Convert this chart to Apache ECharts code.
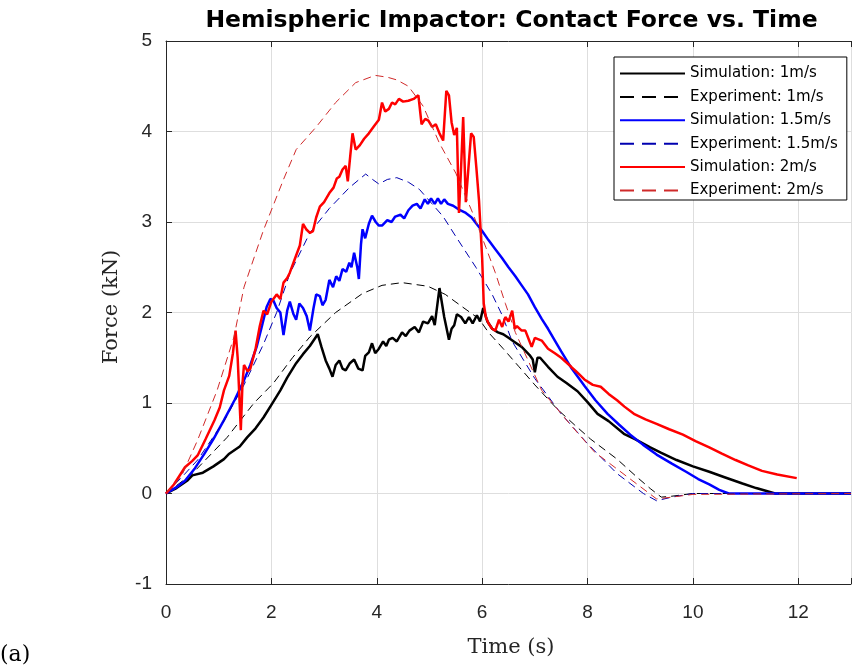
<!DOCTYPE html>
<html>
<head>
<meta charset="utf-8">
<script src="https://cdn.jsdelivr.net/npm/echarts@6/dist/echarts.min.js"></script>
<style>
  html, body { margin: 0; padding: 0; background: #ffffff; }
  #chart { width: 854px; height: 669px; }
</style>
</head>
<body>
<div id="chart"></div>
<script>
// Contact force (kN) against time (s) for a hemispheric impactor at three speeds.
var seriesNames = [
  'Simulation: 1m/s', 'Experiment: 1m/s',
  'Simulation: 1.5m/s', 'Experiment: 1.5m/s',
  'Simulation: 2m/s', 'Experiment: 2m/s'
];

var xTicks = [0, 2, 4, 6, 8, 10, 12];
var yTicks = [-1, 0, 1, 2, 3, 4, 5];

// [time, force] pairs
var sim1 = [
  [0,0],[0.2,0.06],[0.4,0.14],[0.5,0.2],[0.7,0.23],[0.9,0.3],[1.1,0.38],[1.2,0.44],[1.4,0.52],
  [1.54,0.62],[1.7,0.72],[1.85,0.84],[2.0,0.98],[2.17,1.14],[2.3,1.28],[2.47,1.44],[2.6,1.54],
  [2.73,1.63],[2.88,1.76],[2.95,1.62],[3.03,1.47],[3.1,1.38],[3.16,1.29],[3.22,1.42],[3.29,1.47],
  [3.35,1.38],[3.41,1.36],[3.49,1.44],[3.57,1.48],[3.65,1.38],[3.73,1.36],[3.78,1.52],[3.85,1.56],
  [3.91,1.66],[3.97,1.55],[4.04,1.6],[4.12,1.68],[4.18,1.63],[4.23,1.7],[4.3,1.72],[4.38,1.68],
  [4.48,1.78],[4.55,1.74],[4.62,1.8],[4.72,1.84],[4.8,1.78],[4.88,1.9],[4.97,1.88],[5.05,1.96],
  [5.1,1.86],[5.19,2.27],[5.28,1.95],[5.37,1.7],[5.42,1.82],[5.47,1.86],[5.52,1.98],[5.6,1.95],
  [5.68,1.88],[5.75,1.95],[5.82,1.88],[5.9,1.97],[5.96,1.9],[6.02,2.05],[6.1,1.9],[6.19,1.82],
  [6.3,1.78],[6.4,1.76],[6.5,1.72],[6.6,1.68],[6.75,1.62],[6.9,1.53],[6.96,1.48],[7.0,1.34],
  [7.05,1.5],[7.1,1.5],[7.25,1.4],[7.43,1.29],[7.6,1.22],[7.81,1.13],[8.0,1.01],[8.19,0.88],
  [8.4,0.8],[8.69,0.66],[8.9,0.6],[9.19,0.51],[9.4,0.45],[9.69,0.37],[10.0,0.3],[10.31,0.24],
  [10.6,0.18],[10.94,0.11],[11.2,0.06],[11.56,0.0],[12,0],[13,0]
];

var exp1 = [
  [0,0],[0.5,0.22],[1.16,0.62],[1.67,1.0],[2.04,1.22],[2.4,1.5],[2.73,1.73],[3.22,2.0],
  [3.73,2.21],[4.1,2.3],[4.48,2.33],[4.97,2.29],[5.3,2.2],[5.63,2.06],[5.94,1.93],[6.12,1.78],
  [6.4,1.6],[6.7,1.4],[7.0,1.2],[7.43,0.93],[7.75,0.76],[8.06,0.6],[8.56,0.38],[8.94,0.18],
  [9.2,0.05],[9.4,-0.04],[9.6,-0.03],[10,0],[13,0]
];

var sim15 = [
  [0,0],[0.2,0.07],[0.36,0.14],[0.55,0.28],[0.73,0.44],[0.9,0.6],[1.1,0.81],[1.3,1.03],[1.48,1.25],
  [1.6,1.42],[1.72,1.62],[1.82,1.85],[1.91,2.06],[1.98,2.15],[2.04,2.13],[2.1,2.05],[2.17,2.0],
  [2.23,1.75],[2.3,2.02],[2.35,2.12],[2.42,1.98],[2.47,1.92],[2.53,2.1],[2.6,2.05],[2.67,1.96],
  [2.73,1.8],[2.8,2.05],[2.85,2.2],[2.92,2.18],[2.97,2.08],[3.03,2.14],[3.1,2.36],[3.17,2.28],
  [3.23,2.4],[3.29,2.35],[3.35,2.48],[3.42,2.45],[3.48,2.55],[3.52,2.5],[3.57,2.66],[3.63,2.5],
  [3.66,2.37],[3.7,2.75],[3.73,2.92],[3.78,2.82],[3.85,2.98],[3.91,3.07],[3.98,3.0],[4.04,2.96],
  [4.1,2.96],[4.2,3.02],[4.28,3.0],[4.35,3.06],[4.45,3.08],[4.52,3.04],[4.6,3.13],[4.68,3.18],
  [4.76,3.2],[4.83,3.15],[4.91,3.25],[4.97,3.2],[5.03,3.26],[5.1,3.2],[5.16,3.26],[5.22,3.2],
  [5.28,3.25],[5.35,3.2],[5.45,3.18],[5.55,3.14],[5.69,3.1],[5.8,3.05],[5.88,2.99],[6.0,2.9],
  [6.12,2.8],[6.25,2.7],[6.38,2.6],[6.5,2.5],[6.63,2.4],[6.75,2.3],[6.87,2.2],[7.0,2.06],
  [7.13,1.93],[7.25,1.82],[7.38,1.69],[7.5,1.57],[7.7,1.38],[7.94,1.19],[8.15,1.03],[8.38,0.88],
  [8.6,0.76],[8.81,0.65],[9.05,0.54],[9.31,0.43],[9.6,0.33],[9.87,0.24],[10.1,0.16],[10.31,0.1],
  [10.5,0.04],[10.68,0.0],[13,0]
];

var exp15 = [
  [0,0],[0.3,0.18],[0.6,0.37],[1.1,0.8],[1.48,1.2],[1.85,1.65],[2.1,2.0],[2.35,2.43],[2.73,2.88],
  [3.1,3.15],[3.48,3.38],[3.79,3.53],[3.92,3.47],[4.04,3.42],[4.2,3.47],[4.38,3.49],[4.6,3.44],
  [4.81,3.36],[5.05,3.2],[5.26,3.06],[5.5,2.84],[5.88,2.5],[6.19,2.2],[6.38,1.97],[6.57,1.68],
  [7.0,1.27],[7.5,0.88],[8.0,0.55],[8.56,0.22],[9.06,0.0],[9.31,-0.08],[9.6,-0.04],[10,0],[13,0]
];

var sim2 = [
  [0,0],[0.15,0.1],[0.36,0.29],[0.5,0.36],[0.6,0.42],[0.75,0.6],[0.92,0.81],[1.02,0.95],[1.1,1.14],
  [1.2,1.3],[1.27,1.55],[1.32,1.8],[1.36,1.5],[1.42,0.7],[1.45,1.2],[1.48,1.42],[1.55,1.35],
  [1.6,1.38],[1.7,1.6],[1.78,1.85],[1.85,2.02],[1.92,1.98],[2.0,2.12],[2.1,2.2],[2.17,2.15],
  [2.23,2.33],[2.3,2.38],[2.35,2.44],[2.45,2.6],[2.54,2.74],[2.6,2.98],[2.66,2.92],[2.73,2.88],
  [2.79,2.9],[2.85,3.05],[2.92,3.17],[3.0,3.22],[3.1,3.32],[3.18,3.38],[3.24,3.48],[3.29,3.5],
  [3.35,3.58],[3.41,3.62],[3.45,3.45],[3.5,3.75],[3.54,3.98],[3.6,3.8],[3.68,3.85],[3.76,3.92],
  [3.85,3.98],[3.95,4.06],[4.04,4.13],[4.1,4.32],[4.16,4.22],[4.23,4.25],[4.29,4.32],[4.35,4.3],
  [4.42,4.36],[4.5,4.33],[4.6,4.34],[4.7,4.36],[4.79,4.4],[4.85,4.08],[4.92,4.14],[4.98,4.12],
  [5.05,4.05],[5.12,4.08],[5.19,3.98],[5.26,3.9],[5.32,4.45],[5.37,4.4],[5.42,4.1],[5.47,3.96],
  [5.52,4.04],[5.56,3.1],[5.6,3.6],[5.64,4.16],[5.69,3.22],[5.74,3.6],[5.79,3.98],[5.84,3.94],
  [5.89,3.6],[5.94,3.24],[6.0,2.6],[6.03,2.1],[6.07,1.95],[6.12,1.88],[6.19,1.82],[6.25,1.8],
  [6.32,1.92],[6.38,1.84],[6.44,1.95],[6.5,1.9],[6.57,2.02],[6.62,1.82],[6.66,1.85],[6.75,1.8],
  [6.82,1.8],[6.9,1.68],[6.94,1.62],[7.0,1.72],[7.13,1.69],[7.25,1.6],[7.38,1.55],[7.5,1.5],
  [7.69,1.4],[7.8,1.34],[7.94,1.26],[8.1,1.2],[8.25,1.18],[8.4,1.1],[8.56,1.03],[8.7,0.96],
  [8.88,0.88],[9.1,0.82],[9.31,0.77],[9.55,0.71],[9.81,0.65],[10.05,0.58],[10.31,0.51],
  [10.55,0.44],[10.81,0.37],[11.05,0.31],[11.31,0.25],[11.6,0.21],[11.97,0.17]
];

var exp2 = [
  [0,0],[0.3,0.2],[0.6,0.59],[0.97,1.14],[1.29,1.73],[1.48,2.28],[1.85,2.91],[2.23,3.47],
  [2.47,3.8],[2.85,4.05],[3.22,4.32],[3.6,4.54],[3.97,4.62],[4.2,4.6],[4.38,4.57],[4.6,4.5],
  [4.88,4.28],[5.19,3.87],[5.5,3.54],[5.82,3.1],[6.07,2.72],[6.25,2.44],[6.44,2.1],[6.63,1.78],
  [7.13,1.14],[7.69,0.75],[8.13,0.46],[8.81,0.16],[9.31,-0.06],[9.6,-0.04],[10,-0.01],[13,0]
];

var axisColor = '#262626';
var sansFont = '"Liberation Sans", Arial, Helvetica, sans-serif';
var wideSans = '"DejaVu Sans", "Liberation Sans", sans-serif';
var serifFont = '"DejaVu Serif", "Liberation Serif", serif';

function lineSeries(name, data, color, width, dashed) {
  return {
    name: name,
    type: 'line',
    data: data,
    showSymbol: false,
    symbol: 'none',
    animation: false,
    lineStyle: {
      color: color,
      width: width,
      type: dashed ? [8, 5] : 'solid'
    },
    itemStyle: { color: color }
  };
}

// legend entries; the dashed ones get a longer dash so three dashes fit the sample
var legendItems = seriesNames.map(function (name, i) {
  var item = { name: name };
  if (i % 2 === 1) {
    item.lineStyle = { type: [14, 8] };
  }
  return item;
});

var chart = echarts.init(document.getElementById('chart'), null, { renderer: 'canvas' });

chart.setOption({
  backgroundColor: '#ffffff',
  animation: false,
  title: {
    text: 'Hemispheric Impactor: Contact Force vs. Time',
    left: 506.5,
    top: 4,
    textAlign: 'center',
    textStyle: {
      fontFamily: wideSans,
      fontWeight: 'bold',
      fontSize: 23.5,
      color: '#000000'
    }
  },
  grid: { left: 166, right: -6, top: 41, bottom: 85, containLabel: false },
  legend: {
    orient: 'vertical',
    left: 614,
    top: 57,
    padding: [9, 9, 2, 5],
    itemWidth: 65,
    itemHeight: 14,
    itemGap: 8.4,
    backgroundColor: '#ffffff',
    borderColor: '#000000',
    borderWidth: 1,
    itemStyle: { opacity: 0, borderWidth: 0 },
    textStyle: { fontFamily: wideSans, fontSize: 15, color: '#000000' },
    data: legendItems
  },
  xAxis: [{
    type: 'value',
    min: 0,
    max: 13,
    interval: 2,
    position: 'bottom',
    axisLine: { show: true, onZero: false, lineStyle: { color: axisColor, width: 1 } },
    axisTick: { show: true, inside: true, length: 6, lineStyle: { color: axisColor } },
    axisLabel: {
      margin: 19,
      fontFamily: sansFont,
      fontSize: 19,
      color: axisColor,
      formatter: function (v) { return xTicks.indexOf(v) >= 0 ? String(v) : ''; }
    },
    splitLine: { show: true, lineStyle: { color: '#dedede', width: 1 } }
  }, {
    type: 'value',
    min: 0,
    max: 13,
    interval: 2,
    position: 'top',
    axisLine: { show: true, onZero: false, lineStyle: { color: axisColor, width: 1 } },
    axisTick: { show: true, inside: true, length: 6, lineStyle: { color: axisColor } },
    axisLabel: { show: false },
    splitLine: { show: false }
  }],
  yAxis: {
    type: 'value',
    min: -1,
    max: 5,
    interval: 1,
    axisLine: { show: true, onZero: false, lineStyle: { color: axisColor, width: 1 } },
    axisTick: { show: true, inside: true, length: 6, lineStyle: { color: axisColor } },
    axisLabel: {
      margin: 14,
      fontFamily: sansFont,
      fontSize: 19,
      color: axisColor,
      formatter: function (v) { return yTicks.indexOf(v) >= 0 ? String(v) : ''; }
    },
    splitLine: { show: true, lineStyle: { color: '#dedede', width: 1 } }
  },
  graphic: [
    {
      type: 'text',
      x: 112, y: 307,
      rotation: Math.PI / 2,
      style: {
        text: 'Force (kN)',
        font: '21px ' + serifFont,
        fill: '#262626',
        textAlign: 'center',
        textVerticalAlign: 'middle'
      }
    },
    {
      type: 'text',
      x: 511, y: 648,
      style: {
        text: 'Time (s)',
        font: '21px ' + serifFont,
        fill: '#262626',
        textAlign: 'center',
        textVerticalAlign: 'middle'
      }
    },
    {
      type: 'text',
      x: 0, y: 655,
      style: {
        text: '(a)',
        font: '22px ' + serifFont,
        fill: '#000000',
        textAlign: 'left',
        textVerticalAlign: 'middle'
      }
    }
  ],
  series: [
    lineSeries(seriesNames[0], sim1, '#000000', 2.5, false),
    lineSeries(seriesNames[1], exp1, '#000000', 1, true),
    lineSeries(seriesNames[2], sim15, '#0000ff', 2.5, false),
    lineSeries(seriesNames[3], exp15, '#0000b0', 1, true),
    lineSeries(seriesNames[4], sim2, '#ff0000', 2.5, false),
    lineSeries(seriesNames[5], exp2, '#d02a2a', 1, true)
  ]
});
</script>
</body>
</html>
